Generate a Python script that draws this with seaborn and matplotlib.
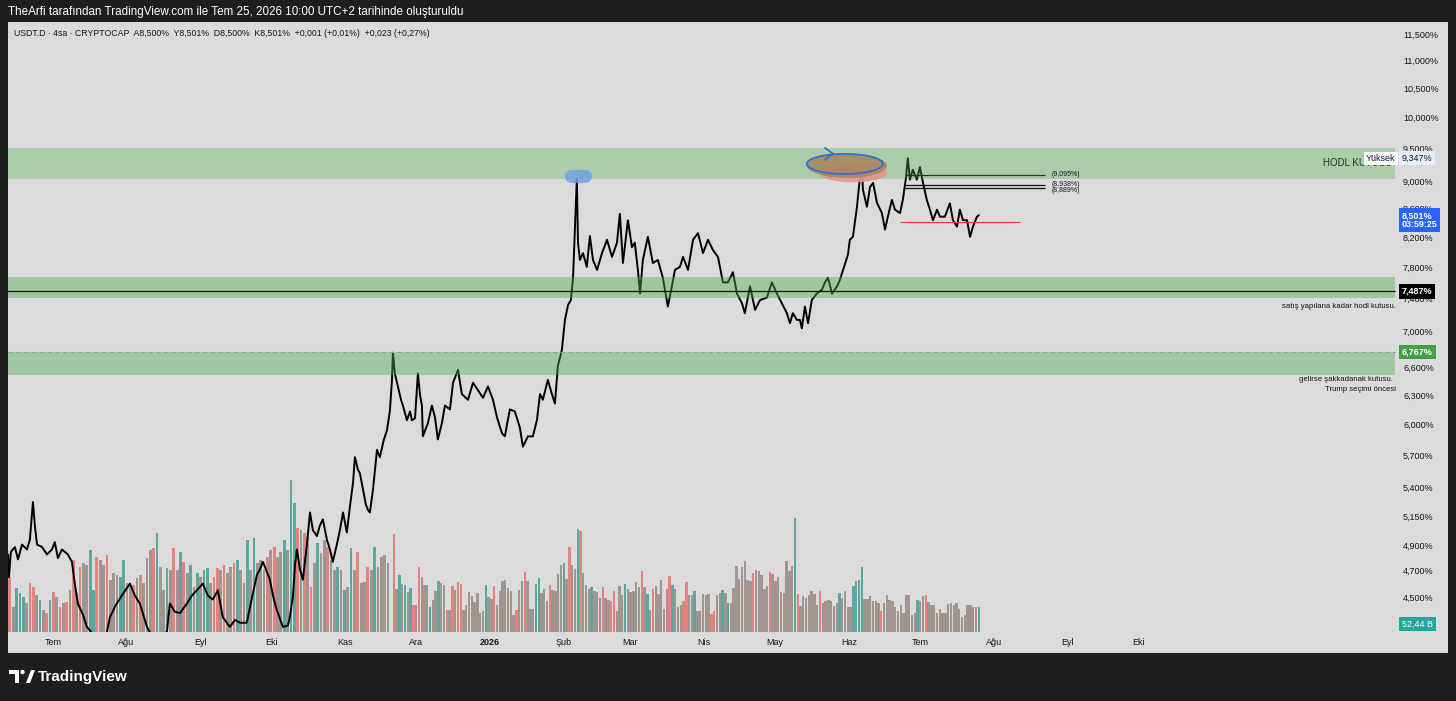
import numpy as np
import pandas as pd
import matplotlib
matplotlib.use("Agg")
import matplotlib.pyplot as plt
import matplotlib.dates as mdates
import matplotlib.transforms as mtransforms
from matplotlib.patches import Ellipse, Rectangle, Circle, Polygon
from matplotlib.ticker import FixedLocator, FuncFormatter, NullLocator
import seaborn as sns

# ---------------- data ----------------
# USDT.D price: days since 2025-07-01 and value in %
price_day = [
    -18.9, -18.5, -17.7, -16.0, -14.7, -13.0, -10.9, -9.7, -8.4, -7.6,
    -6.7, -4.6, -2.5, -0.4, 0.8, 2.1, 3.8, 6.3, 8.0, 9.3,
    10.5, 12.6, 14.3, 16.8, 19.8, 22.7, 24.0, 26.5, 29.0, 32.4,
    34.5, 36.6, 39.6, 42.1, 45.0, 48.0, 49.2, 51.3, 53.5, 56.4,
    58.5, 60.6, 63.1, 65.2, 67.3, 69.4, 71.5, 74.5, 76.6, 78.7,
    81.6, 84.2, 85.9, 87.1, 88.4, 90.1, 91.3, 93.0, 94.3, 96.8,
    98.9, 99.7, 101.0, 101.9, 102.7, 104.0, 105.2, 106.9, 108.2, 109.4,
    111.1, 112.4, 113.6, 115.3, 116.6, 117.8, 119.5, 120.8, 122.1, 123.7,
    125.0, 126.3, 127.1, 128.4, 129.2, 130.5, 131.7, 132.6, 133.4, 134.7,
    136.4, 137.6, 139.3, 140.6, 141.8, 142.7, 143.1, 143.9, 145.2, 146.5,
    147.3, 149.0, 150.3, 151.1, 152.4, 153.6, 154.5, 155.3, 155.7, 157.8,
    159.5, 160.8, 162.0, 163.7, 165.0, 167.1, 168.4, 170.5, 172.1, 174.7,
    176.8, 178.9, 181.0, 183.1, 185.2, 186.9, 189.0, 190.2, 192.3, 194.4,
    196.5, 197.8, 199.9, 202.0, 203.7, 205.0, 206.2, 208.3, 210.0, 211.3,
    212.5, 214.2, 215.5, 216.8, 218.0, 218.9, 219.7, 220.5, 221.0, 221.8,
    223.1, 224.7, 226.0, 227.3, 229.0, 231.1, 233.2, 235.3, 237.4, 238.6,
    239.9, 242.0, 243.7, 244.9, 246.2, 247.1, 248.3, 250.4, 252.5, 254.6,
    256.7, 258.8, 260.5, 261.8, 263.9, 265.2, 267.3, 269.4, 271.5, 273.6,
    275.7, 277.8, 279.9, 280.7, 282.0, 284.1, 286.2, 287.9, 290.0, 291.2,
    293.4, 295.5, 297.6, 300.5, 302.6, 304.7, 306.8, 308.9, 310.2, 311.4,
    313.1, 314.4, 315.2, 316.5, 317.8, 319.4, 321.5, 323.7, 324.9, 326.2,
    327.9, 330.0, 331.2, 333.3, 334.6, 335.4, 336.7, 338.4, 339.6, 340.5,
    340.9, 342.6, 343.9, 345.2, 346.8, 348.9, 350.2, 351.4, 353.1, 354.4,
    356.5, 357.7, 359.0, 359.8, 360.7, 361.9, 363.6, 364.9, 366.2, 367.8,
    369.1, 370.4, 372.1, 373.3, 375.4, 377.5, 378.8, 380.5, 381.7, 383.0,
    384.7, 386.0, 387.2, 388.9, 389.7,
]
price_val = [
    4.83, 4.65, 4.85, 4.89, 4.79, 4.91, 4.87, 4.95, 5.27, 5.07,
    4.91, 4.89, 4.83, 4.87, 4.93, 4.80, 4.87, 4.83, 4.77, 4.59,
    4.45, 4.37, 4.28, 4.23, 4.19, 4.24, 4.35, 4.44, 4.51, 4.60,
    4.51, 4.45, 4.28, 4.20, 4.19, 4.25, 4.45, 4.39, 4.38, 4.45,
    4.51, 4.55, 4.60, 4.51, 4.48, 4.55, 4.35, 4.28, 4.33, 4.31,
    4.31, 4.53, 4.67, 4.71, 4.77, 4.69, 4.63, 4.48, 4.40, 4.28,
    4.29, 4.35, 4.50, 4.75, 4.87, 4.71, 4.63, 4.91, 5.18, 5.03,
    4.98, 5.07, 5.12, 4.95, 4.87, 4.77, 4.91, 5.03, 5.18, 5.01,
    5.23, 5.44, 5.68, 5.56, 5.53, 5.38, 5.25, 5.20, 5.18, 5.38,
    5.75, 5.68, 5.85, 5.94, 6.13, 6.46, 6.76, 6.53, 6.39, 6.25,
    6.19, 6.04, 6.13, 6.04, 6.06, 6.53, 6.30, 6.19, 5.88, 6.01,
    6.19, 6.07, 5.85, 6.01, 6.19, 6.15, 6.43, 6.57, 6.31, 6.25,
    6.43, 6.35, 6.27, 6.39, 6.25, 6.07, 5.91, 5.88, 6.15, 6.13,
    5.97, 5.78, 5.88, 5.88, 6.04, 6.31, 6.25, 6.46, 6.31, 6.21,
    6.61, 6.79, 7.14, 7.32, 7.38, 7.66, 8.33, 9.03, 8.12, 7.89,
    7.98, 7.80, 8.21, 7.89, 7.76, 7.98, 8.16, 7.93, 8.12, 8.52,
    7.85, 8.43, 8.06, 8.12, 7.76, 7.46, 7.89, 8.20, 7.85, 7.89,
    7.66, 7.30, 7.55, 7.76, 7.80, 7.93, 7.76, 8.16, 8.25, 7.98,
    8.16, 8.02, 7.93, 7.80, 7.60, 7.60, 7.73, 7.46, 7.34, 7.22,
    7.55, 7.26, 7.38, 7.41, 7.60, 7.46, 7.34, 7.22, 7.10, 7.22,
    7.14, 7.14, 7.04, 7.30, 7.10, 7.38, 7.46, 7.51, 7.60, 7.66,
    7.46, 7.55, 7.63, 7.83, 7.96, 8.16, 8.20, 8.62, 9.04, 9.24,
    8.87, 8.62, 8.91, 8.97, 8.68, 8.53, 8.30, 8.48, 8.72, 8.58,
    8.53, 8.72, 9.04, 9.347, 9.02, 9.17, 9.02, 9.21, 8.97, 8.72,
    8.58, 8.43, 8.58, 8.48, 8.48, 8.67, 8.43, 8.34, 8.58, 8.43,
    8.43, 8.20, 8.34, 8.48, 8.501,
]

# volume (billions), two stretches of bars; r = down, g = up, m = mixed
vol_a = [
    116, 53, 92, 82, 74, 61, 103, 95, 78, 67,
    46, 40, 67, 84, 74, 53, 61, 63, 88, 151,
    82, 137, 145, 141, 172, 88, 158, 151, 141, 162,
    109, 124, 120, 116, 151, 103, 95, 99, 113, 120,
    103, 155, 172, 176, 208, 137, 88, 134, 130, 176,
    130, 168, 147, 124, 141, 95, 124, 116, 130, 134,
    103, 116, 134, 130, 141, 124, 137, 145, 151, 130,
    103, 193, 130, 197, 145, 151, 130, 158, 172, 179,
    158, 168, 193, 172, 319, 271, 218, 214, 208, 200,
    95, 145, 187, 166, 193, 179, 151, 130, 137, 130,
    88, 95, 176, 130, 168, 103, 105, 137, 130, 179,
    137, 158, 162, 145,
]
dir_a = ("rmgggmrrmg" "mrgrmrmrmr" "mrmmggrmmr" "mmmggrmrmr" "mmmrgmmgmr"
         "mgrmgmgmgg" "mrrmrmmrgm" "mgmgmmmrmr" "mmgmggrmrm" "rmgmmrmmgm"
         "gmgmrmmrmg" "mmmm")
vol_b = [
    206, 90, 120, 101, 99, 84, 92, 57, 57, 137,
    116, 99, 99, 53, 67, 86, 107, 103, 99, 46,
    46, 97, 88, 105, 101, 46, 57, 84, 76, 63,
    82, 40, 44, 99, 74, 69, 97, 57, 86, 107,
    109, 92, 86, 36, 46, 88, 107, 126, 107, 48,
    48, 101, 113, 82, 90, 65, 99, 88, 86, 122,
    141, 145, 111, 179, 141, 132, 216, 212, 124, 99,
    90, 95, 86, 84, 71, 95, 71, 67, 65, 86,
    44, 97, 78, 101, 90, 84, 86, 105, 95, 128,
    95, 80, 46, 90, 97, 80, 109, 48, 90, 118,
    99, 90, 53, 57, 65, 105, 78, 78, 86, 44,
    44, 80, 78, 80, 38, 44, 78, 82, 88, 82,
    61, 61, 92, 139, 111, 137, 149, 109, 107, 124,
    130, 128, 120, 90, 97, 126, 122, 107, 116, 84,
    82, 149, 128, 139, 239, 80, 55, 76, 71, 78,
    86, 80, 57, 86, 61, 65, 67, 65, 55, 61,
    82, 71, 86, 53, 53, 97, 107, 109, 137, 69,
    69, 76, 65, 65, 61, 44, 61, 78, 67, 65,
    53, 44, 57, 40, 78, 78, 36, 40, 67, 65,
    76, 78, 63, 57, 57, 40, 48, 40, 40, 59,
    61, 57, 61, 48, 32, 36, 57, 57, 53, 53,
    52.44,
]
dir_b = ("rmgmgmgrmr" "mmmgmmgmmr" "mrmrrmmmmm" "mmmgmmrmmm" "mmmmrmmrmm"
         "mggmmmrmmm" "mgmrmmgrmm" "mgmmmrmmrr" "mmmgmmmmmr" "mgmrmmmmmr"
         "gmmmrrmmgm" "mmmmrrmmgm" "gmmmmmmmmr" "mmmmmrmmmm" "mmmmgrmmmm"
         "mmmrmmmmmm" "gmmmmggggm" "mmmmmrmmmm" "mmmmmmmmgm" "mrmmmmmmmm"
         "mmmmmmmmmm" "g")

month_starts = pd.date_range("2025-07-01", "2026-10-01", freq="MS")
month_labels = ["Tem", "Ağu", "Eyl", "Eki", "Kas", "Ara", "2026", "Şub",
                "Mar", "Nis", "May", "Haz", "Tem", "Ağu", "Eyl", "Eki"]
price_ticks = [4.3, 4.5, 4.7, 4.9, 5.15, 5.4, 5.7, 6.0, 6.3, 6.6, 7.0,
               7.4, 7.8, 8.2, 8.6, 9.0, 9.5, 10.0, 10.5, 11.0, 11.5]

zone_low = [9.03, 7.41, 6.51]
zone_high = [9.51, 7.67, 6.77]
hodl_line = 7.487
dashed_line = 6.767
fib_levels = [9.095, 8.938, 8.889]
fib_labels = ["(9,095%)", "(8,938%)", "(8,889%)"]
red_level = 8.41
high_val = 9.347
last_val = 8.501
last_vol = "52,44 B"

# ---------------- styling ----------------
sns.set_style("white")
plt.rcParams['font.family'] = ['Liberation Sans', 'DejaVu Sans']

W, H = 1456, 701
BG = '#dbdbdb'
DARK = '#1e1e1e'
TXT = '#131722'
ORIGIN = pd.Timestamp("2025-07-01")


def dnum(day):
    return mdates.date2num(ORIGIN + pd.to_timedelta(day, unit='D'))


def fx(px):
    return px / W


def fy(py):
    return 1 - py / H


fig = plt.figure(figsize=(W / 100, H / 100), dpi=100, facecolor=DARK)
fig.add_artist(Rectangle((fx(8), fy(653)), fx(1448) - fx(8), fy(22) - fy(653),
                         transform=fig.transFigure, fc=BG, ec='none', zorder=-5))

ax_vol = fig.add_axes([fx(8), fy(632), fx(1398) - fx(8), fy(22) - fy(632)])
ax_vol.set_facecolor(BG)
ax = ax_vol.twinx()

# volume bars
vcol = {'r': '#e2847d', 'g': '#5da79f', 'm': '#a0968f'}
t_a = mdates.date2num(pd.date_range("2025-06-12 21:00", "2025-11-19 00:00", periods=len(vol_a)))
t_b = mdates.date2num(pd.date_range("2025-11-21 12:00", "2026-07-25 16:00", periods=len(vol_b)))
ax_vol.bar(t_a, vol_a, width=1.15, color=[vcol[c] for c in dir_a], lw=0, zorder=2)
ax_vol.bar(t_b, vol_b, width=1.0, color=[vcol[c] for c in dir_b], lw=0, zorder=2)
ax_vol.set_ylim(0, 1281)
ax_vol.set_yticks([])

x_left, x_right = dnum(-18.9), dnum(566.1)
ax_vol.set_xlim(x_left, x_right)
ax_vol.xaxis.set_major_locator(FixedLocator(mdates.date2num(month_starts)))
ax_vol.set_xticklabels(month_labels)
ax_vol.tick_params(axis='x', length=0, pad=4, labelsize=6.5, labelcolor=TXT)
for lab in ax_vol.get_xticklabels():
    if lab.get_text() == "2026":
        lab.set_fontweight('bold')

# price line
df = pd.DataFrame({'t': dnum(np.array(price_day)), 'v': price_val})
sns.lineplot(data=df, x='t', y='v', ax=ax, color='black', lw=1.4,
             sort=False, estimator=None, zorder=3)
ax.set_xlim(x_left, x_right)
ax.set_yscale('log')
ax.set_ylim(4.244, 11.73)
ax.yaxis.set_major_locator(FixedLocator(price_ticks))
ax.yaxis.set_minor_locator(NullLocator())
ax.yaxis.set_major_formatter(FuncFormatter(lambda v, p: f"{v:.3f}%".replace('.', ',')))
ax.tick_params(axis='y', length=0, pad=3.6, labelsize=6.5, labelcolor=TXT)
ax.set_xlabel('')
ax.set_ylabel('')
for a in (ax, ax_vol):
    for s in a.spines.values():
        s.set_visible(False)

# zones and horizontal levels
for lo, hi, al in zip(zone_low, zone_high, [0.34, 0.42, 0.42]):
    ax.axhspan(lo, hi, xmin=0, xmax=0.998, fc='#4caf50', alpha=al, lw=0, zorder=4)
ax.axhline(hodl_line, xmax=0.998, color='#111111', lw=0.9, zorder=5)
ax.axhline(dashed_line, xmax=0.998, color='#9b9b9b', lw=0.8, ls=(0, (4, 3)), zorder=5)

ax.hlines(fib_levels, dnum(358.6), dnum(417.5), colors=['#1b3d1b', '#111111', '#111111'],
          lw=0.9, zorder=6)
for lev, lab, dy in zip(fib_levels, fib_labels, [0, -0.6, 1.4]):
    ax.annotate(lab, (dnum(420.5), lev), xytext=(0, -dy), textcoords='offset points',
                fontsize=5, color=TXT, va='center', ha='left', zorder=6)
ax.hlines(red_level, dnum(356.5), dnum(407.0), colors='#e53935', lw=0.8, zorder=6)

# hand-drawn marks
ax.plot([dnum(218.2), dnum(224.1)], [9.07, 9.07], lw=9.4, color='#6f9fe6', alpha=0.8,
        solid_capstyle='round', zorder=7)
ax.add_patch(Ellipse((dnum(336.8), 9.12), 28.5, 0.28, fc='#e8928f', ec='none', alpha=0.9, zorder=6))
ax.add_patch(Ellipse((dnum(334.2), 9.23), 33.7, 0.37, fc='#a5845a', ec='none', alpha=0.85, zorder=7))
ax.add_patch(Ellipse((dnum(333.3), 9.26), 32.0, 0.31, fill=False, ec='#2f6fd0', lw=1.3, zorder=8))
ax.plot([dnum(324.9), dnum(328.3), dnum(324.9)], [9.51, 9.42, 9.32], color='#2f6fd0', lw=1.2, zorder=8)

# text on the chart
ax.text(dnum(534.5), 9.27, "HODL KUTUSU", fontsize=7, color='#1e3b1e', va='center', ha='left',
        zorder=8, clip_on=True)
ax.text(dnum(552.6), high_val, "Yüksek", fontsize=6.5, color=TXT, va='center', ha='left', zorder=9,
        bbox=dict(boxstyle='square,pad=0.25', fc='white', ec='none'))

blend = mtransforms.blended_transform_factory(ax.transAxes, ax.transData)
ax.text(0.9986, 7.30, "satış yapılana kadar hodl kutusu.", transform=blend, fontsize=5.6,
        color='#111111', ha='right', va='center', zorder=8)
ax.text(0.9964, 6.46, "gelirse şakkadanak kutusu.", transform=blend, fontsize=5.6,
        color='#111111', ha='right', va='center', zorder=8)
ax.text(0.9986, 6.36, "Trump seçimi öncesi", transform=blend, fontsize=5.6,
        color='#111111', ha='right', va='center', zorder=8)


def tag(val, text, fc, tc, bold=False, trans=blend):
    ax.text(1.0 + 4 / 1390, val, text, transform=trans, ha='left', va='center', fontsize=6.5,
            color=tc, fontweight='bold' if bold else 'normal', linespacing=1.05, zorder=10,
            clip_on=False, bbox=dict(boxstyle='square,pad=0.3', fc=fc, ec='none'))


tag(high_val, "9,347%", '#e6edf8', TXT)
tag(8.43, "8,501%\n03:59:25", '#2962ff', 'white', bold=True)
tag(hodl_line, "7,487%", 'black', 'white', bold=True)
tag(dashed_line, "6,767%", '#43a047', 'white', bold=True)
tag(0.013, last_vol, '#26a69a', 'white', trans=ax.transAxes)

# header texts
fig.text(fx(8), fy(12), "TheArfi tarafından TradingView.com ile Tem 25, 2026 10:00 UTC+2 tarihinde oluşturuldu",
         color='white', fontsize=8.4, va='center', ha='left')
fig.text(fx(14), fy(33), "USDT.D · 4sa · CRYPTOCAP  A8,500%  Y8,501%  D8,500%  K8,501%  +0,001 (+0,01%)  +0,023 (+0,27%)",
         color=TXT, fontsize=6.3, va='center', ha='left')

# TradingView logo
pix = mtransforms.Affine2D().scale(1 / W, -1 / H).translate(0, 1) + fig.transFigure
fig.add_artist(Polygon([(9, 670), (19, 670), (19, 683), (15, 683), (15, 674), (9, 674)],
                       closed=True, fc='white', ec='none', transform=pix))
fig.add_artist(Circle((22.5, 672), 2.2, fc='white', ec='none', transform=pix))
fig.add_artist(Polygon([(26, 683), (31, 670), (35, 670), (30, 683)], closed=True,
                       fc='white', ec='none', transform=pix))
fig.text(fx(38), fy(677), "TradingView", color='white', fontsize=11, fontweight='bold',
         va='center', ha='left')

fig.savefig("out.png", dpi=100, facecolor=DARK)
